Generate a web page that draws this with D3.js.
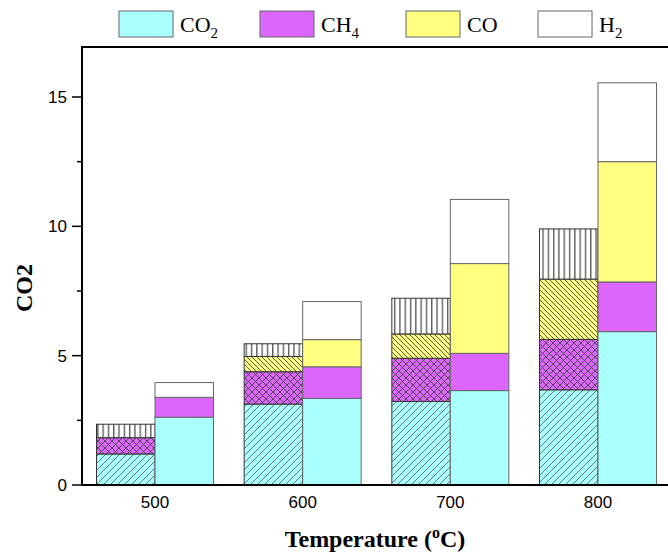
<!DOCTYPE html>
<html><head><meta charset="utf-8">
<script src="https://cdn.jsdelivr.net/npm/d3@7"></script>
<style>body{margin:0;background:#fff}</style>
</head><body>
<svg id="chart" width="668" height="552"></svg>
<script>
const temperatures = ["500", "600", "700", "800"];
const seriesNames = ["CO2", "CH4", "CO", "H2"];
// hatched (left) bars per temperature
const hatchedCO2 = [1.20, 3.13, 3.23, 3.68];
const hatchedCH4 = [0.63, 1.25, 1.67, 1.95];
const hatchedCO  = [0.00, 0.59, 0.94, 2.33];
const hatchedH2  = [0.52, 0.49, 1.38, 1.94];
// solid (right) bars per temperature
const solidCO2 = [2.62, 3.35, 3.65, 5.93];
const solidCH4 = [0.77, 1.22, 1.44, 1.92];
const solidCO  = [0.00, 1.05, 3.47, 4.65];
const solidH2  = [0.57, 1.47, 2.48, 3.05];
const yTicks = [0, 5, 10, 15];
const yMinorTicks = [2.5, 7.5, 12.5];

const colors = {CO2: "#aaffff", CH4: "#dd66ff", CO: "#ffff80", H2: "#ffffff"};

const svg = d3.select("#chart");
const defs = svg.append("defs");
function pattern(id, bg, lines, size, stroke, sw) {
  const p = defs.append("pattern").attr("id", id).attr("patternUnits", "userSpaceOnUse")
    .attr("width", size).attr("height", size);
  p.append("rect").attr("width", size).attr("height", size).attr("fill", bg);
  lines.forEach(d => p.append("path").attr("d", d).attr("stroke", stroke).attr("stroke-width", sw).attr("fill", "none"));
}
const s1 = 7;
pattern("pCO2", colors.CO2, [`M0,${s1} L${s1},0`, `M-1,1 L1,-1`, `M${s1-1},${s1+1} L${s1+1},${s1-1}`], s1, "#666", 0.9);
const s2 = 7;
pattern("pCH4", colors.CH4, [`M0,${s2} L${s2},0`, `M-1,1 L1,-1`, `M${s2-1},${s2+1} L${s2+1},${s2-1}`,
  `M0,0 L${s2},${s2}`, `M-1,${s2-1} L1,${s2+1}`, `M${s2-1},-1 L${s2+1},1`], s2, "#444", 0.9);
const s3 = 5;
pattern("pCO", colors.CO, [`M0,0 L${s3},${s3}`, `M-1,${s3-1} L1,${s3+1}`, `M${s3-1},-1 L${s3+1},1`], s3, "#444", 0.9);
pattern("pH2", colors.H2, [`M2.5,0 L2.5,6`], 5.3, "#222", 1);

const x = d3.scalePoint().domain(temperatures).range([155, 598]);
const y = d3.scaleLinear().domain([0, 15]).range([485, 97]);
const barW = 58.5;

function stackData(arrs) {
  return temperatures.map((t, i) => {
    let base = 0;
    return seriesNames.map((s, k) => {
      const v = arrs[k][i];
      const seg = {t, s, y0: base, y1: base + v};
      base += v;
      return seg;
    });
  }).flat();
}
const hatched = stackData([hatchedCO2, hatchedCH4, hatchedCO, hatchedH2]);
const solid = stackData([solidCO2, solidCH4, solidCO, solidH2]);

svg.append("g").selectAll("rect").data(hatched.filter(d => d.y1 > d.y0)).join("rect")
  .attr("x", d => x(d.t) - barW).attr("width", barW)
  .attr("y", d => y(d.y1)).attr("height", d => y(d.y0) - y(d.y1))
  .attr("fill", d => `url(#p${d.s})`).attr("stroke", "#333").attr("stroke-width", 1);

svg.append("g").selectAll("rect").data(solid.filter(d => d.y1 > d.y0)).join("rect")
  .attr("x", d => x(d.t)).attr("width", barW)
  .attr("y", d => y(d.y1)).attr("height", d => y(d.y0) - y(d.y1))
  .attr("fill", d => colors[d.s]).attr("stroke", "#666").attr("stroke-width", 1);

// frame
svg.append("rect").attr("x", 82).attr("y", 47).attr("width", 620).attr("height", 485 - 47)
  .attr("fill", "none").attr("stroke", "#000").attr("stroke-width", 2);

// y axis ticks
const yAxis = svg.append("g");
yAxis.selectAll("line.maj").data(yTicks).join("line").attr("class", "maj")
  .attr("x1", 72).attr("x2", 82).attr("y1", d => y(d)).attr("y2", d => y(d))
  .attr("stroke", "#000").attr("stroke-width", 1.5);
yAxis.selectAll("line.min").data(yMinorTicks).join("line").attr("class", "min")
  .attr("x1", 77).attr("x2", 82).attr("y1", d => y(d)).attr("y2", d => y(d))
  .attr("stroke", "#000").attr("stroke-width", 1.5);
yAxis.selectAll("text").data(yTicks).join("text")
  .attr("x", 67).attr("y", d => y(d) + 6).attr("text-anchor", "end")
  .attr("font-family", "Liberation Sans, Arial, sans-serif").attr("font-size", 17).text(d => d);

// x axis labels
svg.append("g").selectAll("text").data(temperatures).join("text")
  .attr("x", d => x(d)).attr("y", 508).attr("text-anchor", "middle")
  .attr("font-family", "Liberation Sans, Arial, sans-serif").attr("font-size", 17).text(d => d);

// axis titles
svg.append("text").attr("transform", "translate(32,288) rotate(-90)").attr("text-anchor", "middle")
  .attr("font-family", "Liberation Serif, Times New Roman, serif").attr("font-weight", "bold").attr("font-size", 24)
  .text("CO2");
const xt = svg.append("text").attr("x", 375).attr("y", 547).attr("text-anchor", "middle")
  .attr("font-family", "Liberation Serif, Times New Roman, serif").attr("font-weight", "bold").attr("font-size", 24);
xt.append("tspan").text("Temperature (");
xt.append("tspan").attr("font-size", 16).attr("dy", -9).text("o");
xt.append("tspan").attr("dy", 9).text("C)");

// legend
const legendX = [119, 260, 406, 538];
const legendLabels = [["CO", "2"], ["CH", "4"], ["CO", ""], ["H", "2"]];
const lg = svg.append("g");
seriesNames.forEach((s, i) => {
  lg.append("rect").attr("x", legendX[i]).attr("y", 11).attr("width", 54).attr("height", 26)
    .attr("fill", colors[s]).attr("stroke", "#666").attr("stroke-width", 1);
  const t = lg.append("text").attr("x", legendX[i] + 61).attr("y", 32)
    .attr("font-family", "Liberation Serif, Times New Roman, serif").attr("font-size", 22);
  t.append("tspan").text(legendLabels[i][0]);
  if (legendLabels[i][1]) t.append("tspan").attr("font-size", 15).attr("dy", 6).text(legendLabels[i][1]);
});
</script>
</body></html>
